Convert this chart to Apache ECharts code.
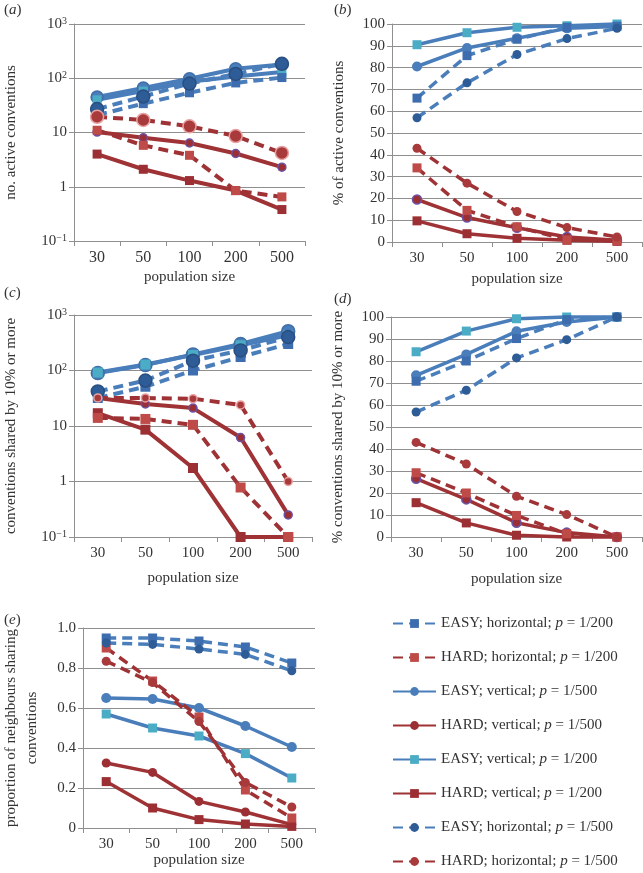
<!DOCTYPE html>
<html><head><meta charset="utf-8">
<script src="https://cdn.jsdelivr.net/npm/echarts@6/dist/echarts.min.js"></script>
<style>html,body{margin:0;padding:0;background:#fff}#c{width:643px;height:873px}</style>
</head><body><div id="c"></div>
<script>
// ---------- DATA ----------
const categories = ['30', '50', '100', '200', '500'];
const seriesNames = [
  'EASY; horizontal; p = 1/200',
  'HARD; horizontal; p = 1/200',
  'EASY; vertical; p = 1/500',
  'HARD; vertical; p = 1/500',
  'EASY; vertical; p = 1/200',
  'HARD; vertical; p = 1/200',
  'EASY; horizontal; p = 1/500',
  'HARD; horizontal; p = 1/500'
];
const logTickLabels = { '-1': '10{s|−1}', '0': '1', '1': '10', '2': '10{s|2}', '3': '10{s|3}' };

// (a) no. active conventions
const a_easyH200 = [21, 34, 54, 82, 103];
const a_hardH200 = [11, 5.8, 3.8, 0.85, 0.65];
const a_easyV500 = [45, 66, 98, 150, 180];
const a_hardV500 = [10.2, 8.0, 6.4, 4.1, 2.3];
const a_easyV200 = [40, 58, 86, 108, 130];
const a_hardV200 = [4.0, 2.1, 1.3, 0.85, 0.38];
const a_easyH500 = [27, 46, 80, 120, 185];
const a_hardH500 = [19.5, 17, 13, 8.6, 4.2];

// (b) % of active conventions
const b_easyH200 = [66, 85.5, 93, 98.5, 99];
const b_hardH200 = [34, 14.5, 7, 1, 0.5];
const b_easyV500 = [80.5, 89, 93.5, 98, 98.8];
const b_hardV500 = [19.5, 11.2, 6.5, 2.3, 0.8];
const b_easyV200 = [90.5, 96, 98.5, 99.2, 100];
const b_hardV200 = [9.7, 3.8, 1.7, 0.8, 0.3];
const b_easyH500 = [57, 73, 86, 93.3, 98];
const b_hardH500 = [43, 27, 14, 6.6, 2.3];

// (c) conventions shared by 10% or more
const c_easyH200 = [32, 51, 100, 175, 300];
const c_hardH200 = [14, 13.4, 10.5, 0.78, 0.1];
const c_easyV500 = [90, 125, 195, 300, 510];
const c_hardV500 = [32, 25, 21, 6.2, 0.25];
const c_easyV200 = [92, 128, 190, 285, 430];
const c_hardV200 = [17, 8.6, 1.75, 0.1, 0.1];
const c_easyH500 = [42, 66, 150, 230, 400];
const c_hardH500 = [32, 32, 31, 24, 1.0];

// (d) % conventions shared by 10% or more
const d_easyH200 = [70.8, 80, 90.2, 98.8, 100];
const d_hardH200 = [29.2, 20, 9.8, 1.5, 0];
const d_easyV500 = [73.5, 83, 93.5, 97.7, 100];
const d_hardV500 = [26.5, 17.1, 6.5, 2, 0];
const d_easyV200 = [84.2, 93.6, 99.2, 100, 100];
const d_hardV200 = [15.6, 6.4, 0.8, 0, 0];
const d_easyH500 = [56.8, 66.7, 81.4, 89.7, 100];
const d_hardH500 = [43, 33.2, 18.5, 10.2, 0];

// (e) proportion of neighbours sharing conventions
const e_easyH200 = [0.95, 0.95, 0.935, 0.905, 0.825];
const e_hardH200 = [0.90, 0.735, 0.555, 0.19, 0.05];
const e_easyV500 = [0.65, 0.645, 0.60, 0.51, 0.405];
const e_hardV500 = [0.325, 0.278, 0.133, 0.08, 0.017];
const e_easyV200 = [0.57, 0.50, 0.46, 0.372, 0.25];
const e_hardV200 = [0.232, 0.10, 0.042, 0.02, 0.008];
const e_easyH500 = [0.925, 0.918, 0.895, 0.868, 0.786];
const e_hardH500 = [0.834, 0.727, 0.532, 0.228, 0.105];

// ---------- STYLE ----------
const FONT = 'Liberation Serif';
const TXT = '#333333';
const GRIDC = '#8f8f8f';
const BLUE = '#4A7EBB', RED = '#9E3235';
const lineColors = [BLUE, RED, BLUE, RED, BLUE, RED, BLUE, RED];
const dashed = [true, true, false, false, false, false, true, true];
const symbols = ['rect', 'rect', 'circle', 'circle', 'rect', 'rect', 'circle', 'circle'];
const markerColors = ['#3D6DAE', '#BE4B48', '#4A7EBB', '#9C2F33', '#4BACC6', '#9C2F33', '#2E5C96', '#A83A3C'];

const panelData = [
  [a_easyH200, a_hardH200, a_easyV500, a_hardV500, a_easyV200, a_hardV200, a_easyH500, a_hardH500],
  [b_easyH200, b_hardH200, b_easyV500, b_hardV500, b_easyV200, b_hardV200, b_easyH500, b_hardH500],
  [c_easyH200, c_hardH200, c_easyV500, c_hardV500, c_easyV200, c_hardV200, c_easyH500, c_hardH500],
  [d_easyH200, d_hardH200, d_easyV500, d_hardV500, d_easyV200, d_hardV200, d_easyH500, d_hardH500],
  [e_easyH200, e_hardH200, e_easyV500, e_hardV500, e_easyV200, e_hardV200, e_easyH500, e_hardH500]
];
const panelSizes = [
  [9, 9, 12, 8, 9, 9, 13, 13],
  [9, 9, 10, 9, 9, 9, 9, 9],
  [10, 10, 13, 8, 10, 10, 13, 8],
  [9, 9, 10, 9, 9, 9, 9, 9],
  [9, 9, 10, 9, 9, 9, 9, 9]
];
const panelBorders = [
  [null, null, '#3F6EA8', '#6B52A3', null, null, '#2A4E80', '#E8A0A0'],
  [null, null, null, '#6B52A3', null, null, null, null],
  [null, null, '#3F6EA8', '#6B52A3', null, null, '#2A4E80', '#E8A0A0'],
  [null, null, null, '#6B52A3', null, null, null, null],
  [null, null, null, null, null, null, null, null]
];
const panelLineW = [4, 3.5, 4, 3.5, 3.5];

const grids = [
  { left: 72, top: 24, width: 233, height: 217 },
  { left: 392, top: 24, width: 250, height: 218 },
  { left: 72, top: 315, width: 240, height: 222 },
  { left: 391, top: 317, width: 251, height: 220 },
  { left: 72, top: 628, width: 243, height: 200 }
];
const yTitles = [
  'no. active conventions',
  '% of active conventions',
  'conventions shared by 10% or more',
  '% conventions shared by 10% or more',
  'proportion of neighbours sharing\nconventions'
];
const yNameGaps = [52, 42, 52, 42, 40];
const xNameGaps = [29, 30, 34, 35, 21];
const xLabelSizes = [16, 15, 15, 15, 15];

function logFmt(v) {
  const e = Math.round(Math.log10(v));
  return logTickLabels[String(e)] || String(v);
}

const xAxes = grids.map((g, i) => ({
  type: 'category', gridIndex: i, data: categories, boundaryGap: true,
  name: 'population size', nameLocation: 'middle', nameGap: xNameGaps[i],
  nameTextStyle: { fontFamily: FONT, fontSize: 15, color: TXT },
  axisLine: { show: true, lineStyle: { color: GRIDC, width: 1 } },
  axisTick: { show: true, length: 5, lineStyle: { color: GRIDC } },
  axisLabel: { fontFamily: FONT, fontSize: xLabelSizes[i], color: TXT, margin: 9 },
  splitLine: { show: false }
}));

const yAxes = grids.map((g, i) => {
  const base = {
    gridIndex: i,
    name: yTitles[i], nameLocation: 'middle', nameRotate: 90, nameGap: yNameGaps[i],
    nameTextStyle: { fontFamily: FONT, fontSize: 15, color: TXT, lineHeight: 21 },
    axisLine: { show: true, lineStyle: { color: GRIDC, width: 1 } },
    axisTick: { show: true, length: 5, lineStyle: { color: GRIDC } },
    splitLine: { show: true, lineStyle: { color: GRIDC, width: 1 } },
    axisLabel: { fontFamily: FONT, fontSize: 15, color: TXT, margin: 7 }
  };
  if (i === 0 || i === 2) {
    return Object.assign(base, {
      type: 'log', logBase: 10, min: 0.1, max: 1000, interval: 1,
      axisLabel: {
        fontFamily: FONT, fontSize: 15, color: TXT, margin: 7,
        formatter: logFmt,
        rich: { s: { fontFamily: FONT, fontSize: 10, color: TXT, verticalAlign: 'top', padding: [0, 0, 6, 0] } }
      }
    });
  }
  if (i === 4) {
    return Object.assign(base, {
      type: 'value', min: 0, max: 1, interval: 0.2,
      axisLabel: { fontFamily: FONT, fontSize: 15, color: TXT, margin: 7,
        formatter: v => v === 0 ? '0' : v.toFixed(1) }
    });
  }
  return Object.assign(base, { type: 'value', min: 0, max: 100, interval: 10 });
});

const series = [];
[4, 0, 1, 2, 3].forEach(p => {
  panelData[p].forEach((vals, k) => {
    const bc = panelBorders[p][k];
    series.push({
      type: 'line', name: seriesNames[k], xAxisIndex: p, yAxisIndex: p,
      data: vals, symbol: symbols[k], symbolSize: panelSizes[p][k],
      showAllSymbol: true, clip: false,
      z: dashed[k] ? 3 : 2,
      lineStyle: { color: lineColors[k], width: panelLineW[p], type: dashed[k] ? [10, 6] : 'solid' },
      itemStyle: { color: markerColors[k], borderColor: bc || markerColors[k], borderWidth: bc ? 1.5 : 0, opacity: 1 },
      emphasis: { disabled: true }
    });
  });
});

function panelLabel(letter, x, y) {
  return {
    type: 'text', left: x, top: y,
    style: {
      text: '{n|(}{i|' + letter + '}{n|)}',
      rich: {
        n: { fontFamily: FONT, fontSize: 15, fill: TXT },
        i: { fontFamily: FONT, fontSize: 15, fontStyle: 'italic', fill: TXT }
      }
    }
  };
}

const option = {
  animation: false,
  backgroundColor: '#ffffff',
  grid: grids.map(g => Object.assign({ containLabel: false }, g)),
  xAxis: xAxes,
  yAxis: yAxes,
  series: series,
  legend: {
    type: 'plain',
    orient: 'vertical', left: 392, top: 616, height: 257,
    padding: 0,
    itemWidth: 43, itemHeight: 11, itemGap: 19,
    selectedMode: false,
    data: seriesNames,
    itemStyle: { borderWidth: 0 },
    textStyle: {
      fontFamily: FONT, fontSize: 15, color: TXT,
      rich: {
        n: { fontFamily: FONT, fontSize: 15, color: TXT },
        i: { fontFamily: FONT, fontSize: 15, color: TXT, fontStyle: 'italic' }
      }
    },
    formatter: name => {
      const parts = name.split('p =');
      return '{n|' + parts[0] + '}{i|p}{n| =' + parts[1] + '}';
    }
  },
  graphic: [
    panelLabel('a', 4, 3),
    panelLabel('b', 334, 3),
    panelLabel('c', 4, 286),
    panelLabel('d', 334, 292),
    panelLabel('e', 4, 613)
  ]
};

const chart = echarts.init(document.getElementById('c'), null, { renderer: 'canvas' });
chart.setOption(option);
</script>
</body></html>
